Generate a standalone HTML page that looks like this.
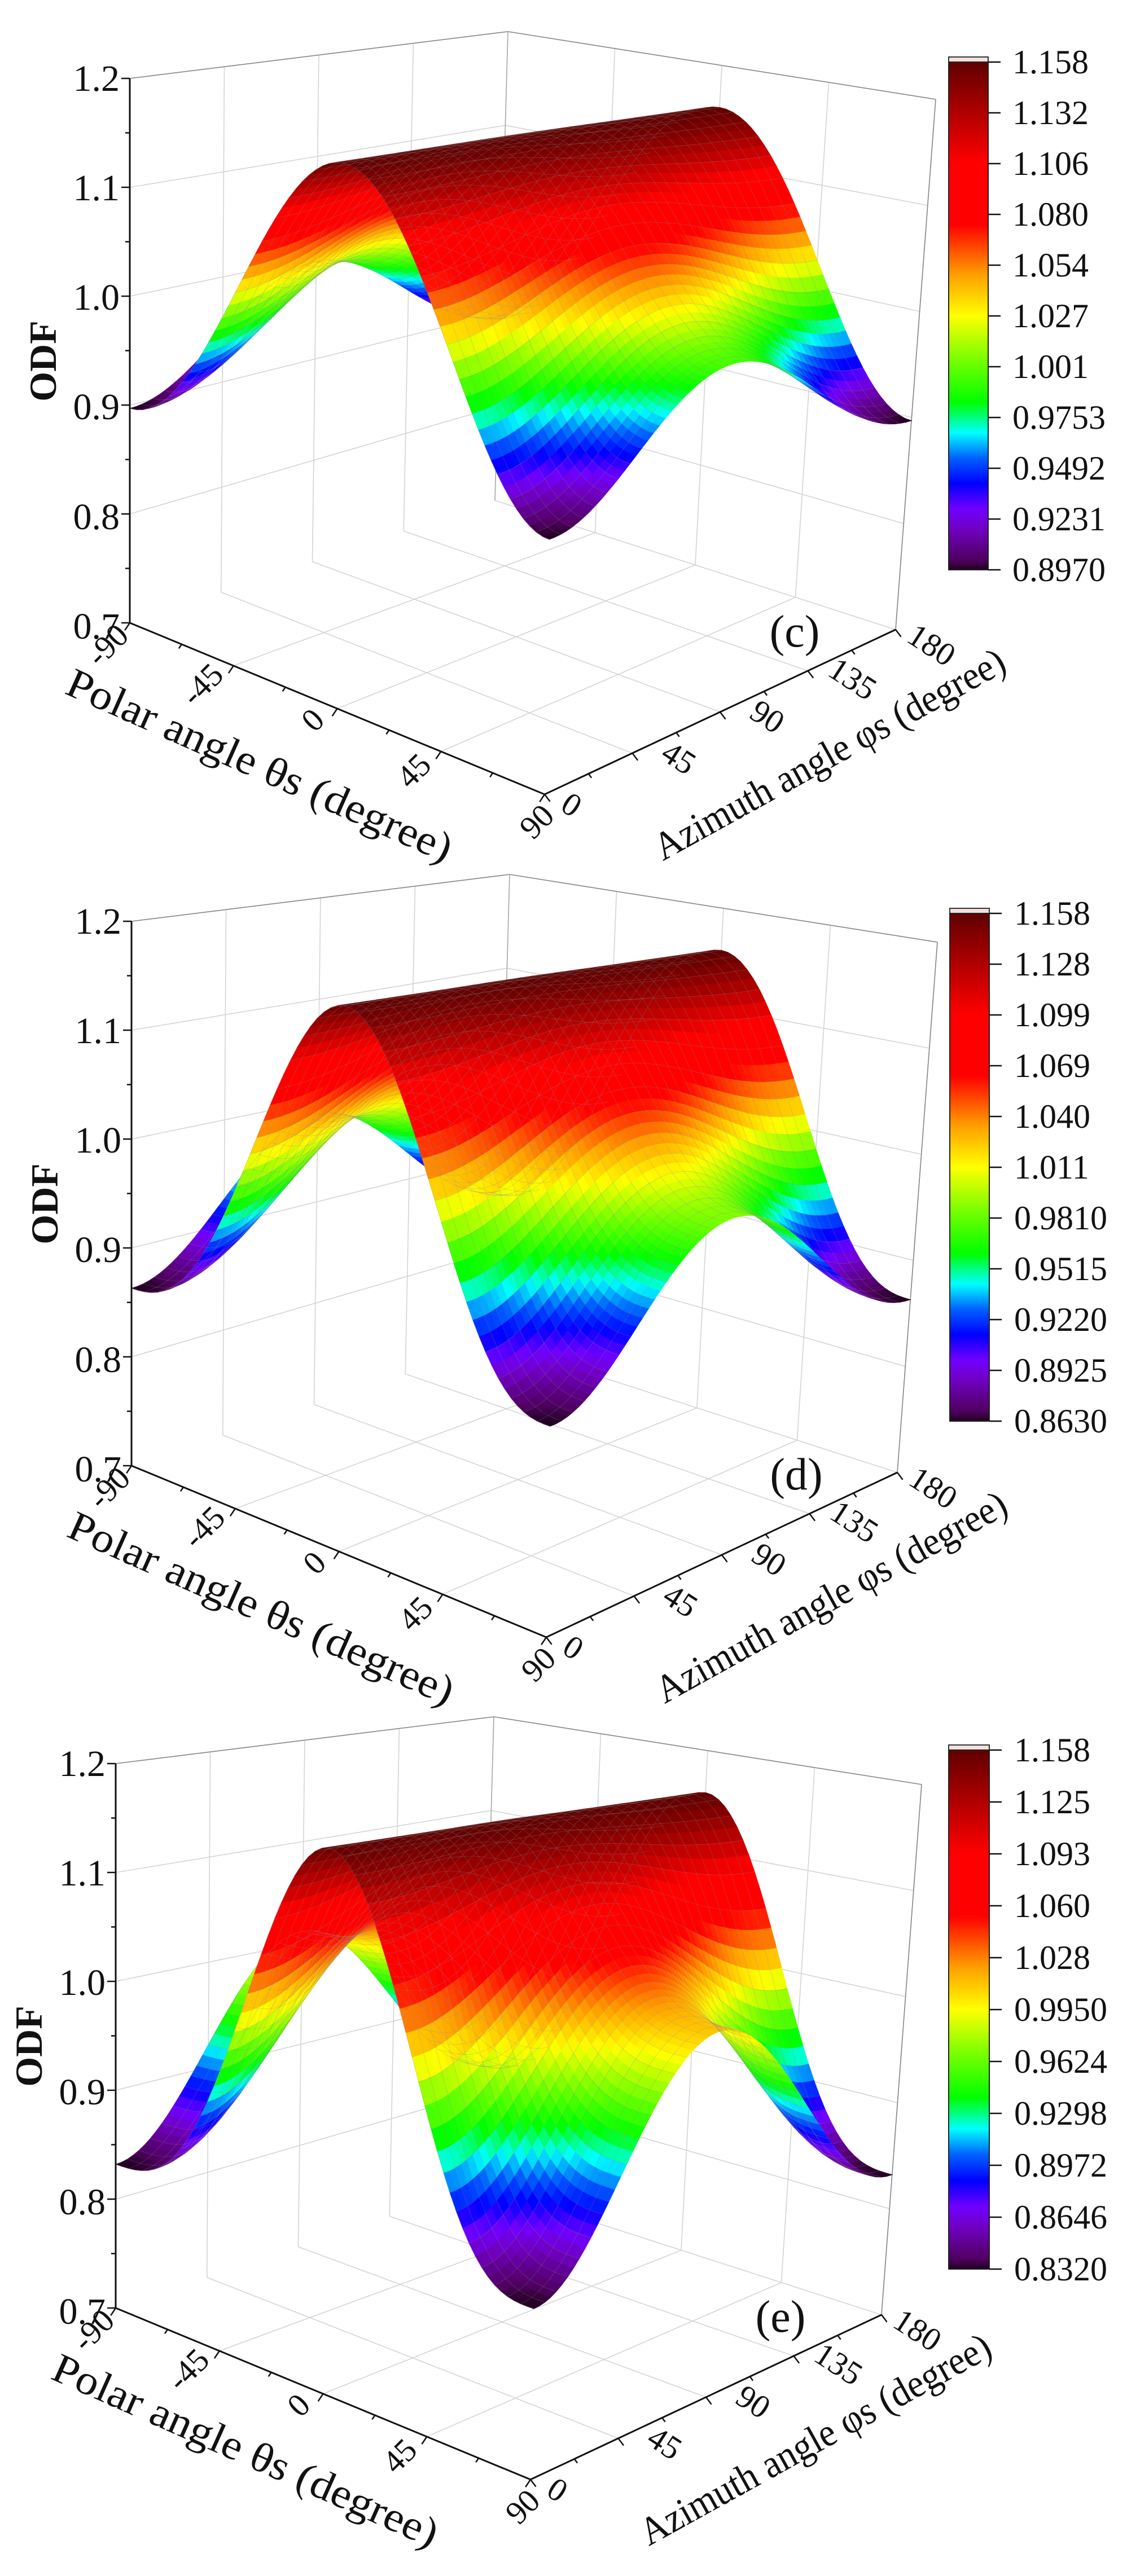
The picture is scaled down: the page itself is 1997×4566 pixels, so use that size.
<!DOCTYPE html>
<html><head><meta charset="utf-8">
<style>
html,body{margin:0;padding:0;background:#fff;}
svg{display:block;}
text{font-family:"Liberation Serif",serif;fill:#111;}
</style></head>
<body>
<svg id="root" width="1997" height="4566" viewBox="0 0 1997 4566" xmlns="http://www.w3.org/2000/svg">
<defs>
<linearGradient id="cmap" x1="0" y1="1" x2="0" y2="0">
<stop offset="0" stop-color="#200020"/><stop offset="0.02" stop-color="#500060"/>
<stop offset="0.08" stop-color="#7000c0"/><stop offset="0.12" stop-color="#7000ff"/>
<stop offset="0.17" stop-color="#0000ff"/><stop offset="0.22" stop-color="#0060ff"/>
<stop offset="0.27" stop-color="#00ffff"/><stop offset="0.33" stop-color="#00ff00"/>
<stop offset="0.42" stop-color="#80ff00"/><stop offset="0.5" stop-color="#ffff00"/>
<stop offset="0.58" stop-color="#ffa000"/><stop offset="0.63" stop-color="#ff5000"/>
<stop offset="0.68" stop-color="#ff0000"/><stop offset="0.8" stop-color="#ff0000"/>
<stop offset="0.9" stop-color="#b00000"/><stop offset="1" stop-color="#600000"/>
</linearGradient>
</defs>

<!-- Panel c -->
<g transform="translate(0,0)">
<g id="grid1"></g><g id="surf1"></g><g id="axes1"></g>
<g font-size="66" text-anchor="end">
<text x="212" y="161">1.2</text><text x="212" y="355">1.1</text><text x="212" y="549">1.0</text>
<text x="212" y="743">0.9</text><text x="212" y="938">0.8</text><text x="212" y="1132">0.7</text>
</g>
<text x="76" y="640" font-size="68" font-weight="bold" text-anchor="middle" dominant-baseline="central" transform="rotate(-90 76 640)">ODF</text>
<g font-size="58" text-anchor="middle" dominant-baseline="central">
<text x="190" y="1143" transform="rotate(-45 190 1143)">-90</text>
<text x="358" y="1213" transform="rotate(-45 358 1213)">-45</text>
<text x="554" y="1276" transform="rotate(-45 554 1276)">0</text>
<text x="733" y="1366" transform="rotate(-45 733 1366)">45</text>
<text x="951" y="1456" transform="rotate(-45 951 1456)">90</text>
<text x="1013" y="1426" transform="rotate(33 1013 1426)">0</text>
<text x="1203" y="1343" transform="rotate(33 1203 1343)">45</text>
<text x="1360" y="1270" transform="rotate(33 1360 1270)">90</text>
<text x="1511" y="1203" transform="rotate(33 1511 1203)">135</text>
<text x="1651" y="1143" transform="rotate(33 1651 1143)">180</text>
</g>
<text x="460" y="1357" font-size="74" text-anchor="middle" dominant-baseline="central" textLength="740" lengthAdjust="spacingAndGlyphs" transform="rotate(24 460 1357)">Polar angle θs (degree)</text>
<text x="1470" y="1337" font-size="70" text-anchor="middle" dominant-baseline="central" textLength="700" lengthAdjust="spacingAndGlyphs" transform="rotate(-29 1470 1337)">Azimuth angle φs (degree)</text>
<text x="1408" y="1120" font-size="80" text-anchor="middle" dominant-baseline="central">(c)</text>
</g>

<!-- Panel d -->
<g transform="translate(3,1494)">
<g id="grid2"></g><g id="surf2"></g><g id="axes2"></g>
<g font-size="66" text-anchor="end">
<text x="212" y="161">1.2</text><text x="212" y="355">1.1</text><text x="212" y="549">1.0</text>
<text x="212" y="743">0.9</text><text x="212" y="938">0.8</text><text x="212" y="1132">0.7</text>
</g>
<text x="76" y="640" font-size="68" font-weight="bold" text-anchor="middle" dominant-baseline="central" transform="rotate(-90 76 640)">ODF</text>
<g font-size="58" text-anchor="middle" dominant-baseline="central">
<text x="190" y="1143" transform="rotate(-45 190 1143)">-90</text>
<text x="358" y="1213" transform="rotate(-45 358 1213)">-45</text>
<text x="554" y="1276" transform="rotate(-45 554 1276)">0</text>
<text x="733" y="1366" transform="rotate(-45 733 1366)">45</text>
<text x="951" y="1456" transform="rotate(-45 951 1456)">90</text>
<text x="1013" y="1426" transform="rotate(33 1013 1426)">0</text>
<text x="1203" y="1343" transform="rotate(33 1203 1343)">45</text>
<text x="1360" y="1270" transform="rotate(33 1360 1270)">90</text>
<text x="1511" y="1203" transform="rotate(33 1511 1203)">135</text>
<text x="1651" y="1143" transform="rotate(33 1651 1143)">180</text>
</g>
<text x="460" y="1357" font-size="74" text-anchor="middle" dominant-baseline="central" textLength="740" lengthAdjust="spacingAndGlyphs" transform="rotate(24 460 1357)">Polar angle θs (degree)</text>
<text x="1470" y="1337" font-size="70" text-anchor="middle" dominant-baseline="central" textLength="700" lengthAdjust="spacingAndGlyphs" transform="rotate(-29 1470 1337)">Azimuth angle φs (degree)</text>
<text x="1408" y="1120" font-size="80" text-anchor="middle" dominant-baseline="central">(d)</text>
</g>

<!-- Panel e -->
<g transform="translate(-25,2987)">
<g id="grid3"></g><g id="surf3"></g><g id="axes3"></g>
<g font-size="66" text-anchor="end">
<text x="212" y="161">1.2</text><text x="212" y="355">1.1</text><text x="212" y="549">1.0</text>
<text x="212" y="743">0.9</text><text x="212" y="938">0.8</text><text x="212" y="1132">0.7</text>
</g>
<text x="76" y="640" font-size="68" font-weight="bold" text-anchor="middle" dominant-baseline="central" transform="rotate(-90 76 640)">ODF</text>
<g font-size="58" text-anchor="middle" dominant-baseline="central">
<text x="190" y="1143" transform="rotate(-45 190 1143)">-90</text>
<text x="358" y="1213" transform="rotate(-45 358 1213)">-45</text>
<text x="554" y="1276" transform="rotate(-45 554 1276)">0</text>
<text x="733" y="1366" transform="rotate(-45 733 1366)">45</text>
<text x="951" y="1456" transform="rotate(-45 951 1456)">90</text>
<text x="1013" y="1426" transform="rotate(33 1013 1426)">0</text>
<text x="1203" y="1343" transform="rotate(33 1203 1343)">45</text>
<text x="1360" y="1270" transform="rotate(33 1360 1270)">90</text>
<text x="1511" y="1203" transform="rotate(33 1511 1203)">135</text>
<text x="1651" y="1143" transform="rotate(33 1651 1143)">180</text>
</g>
<text x="460" y="1357" font-size="74" text-anchor="middle" dominant-baseline="central" textLength="740" lengthAdjust="spacingAndGlyphs" transform="rotate(24 460 1357)">Polar angle θs (degree)</text>
<text x="1470" y="1337" font-size="70" text-anchor="middle" dominant-baseline="central" textLength="700" lengthAdjust="spacingAndGlyphs" transform="rotate(-29 1470 1337)">Azimuth angle φs (degree)</text>
<text x="1408" y="1120" font-size="80" text-anchor="middle" dominant-baseline="central">(e)</text>
</g>

<!-- Colorbars -->
<g>
<rect x="1681" y="101" width="70" height="9" fill="#f4e0e0" stroke="#333" stroke-width="2"/>
<rect x="1681" y="110" width="70" height="900" fill="url(#cmap)" stroke="#222" stroke-width="2"/>
<g id="cbt1"></g>
<g font-size="60">
<text x="1794" y="130">1.158</text><text x="1794" y="220">1.132</text><text x="1794" y="310">1.106</text>
<text x="1794" y="400">1.080</text><text x="1794" y="490">1.054</text><text x="1794" y="580">1.027</text>
<text x="1794" y="670">1.001</text><text x="1794" y="760">0.9753</text><text x="1794" y="850">0.9492</text>
<text x="1794" y="940">0.9231</text><text x="1794" y="1030">0.8970</text>
</g>
</g>
<g>
<rect x="1683" y="1610" width="70" height="9" fill="#f4e0e0" stroke="#333" stroke-width="2"/>
<rect x="1683" y="1619" width="70" height="900" fill="url(#cmap)" stroke="#222" stroke-width="2"/>
<g id="cbt2"></g>
<g font-size="60">
<text x="1797" y="1639">1.158</text><text x="1797" y="1729">1.128</text><text x="1797" y="1819">1.099</text>
<text x="1797" y="1909">1.069</text><text x="1797" y="1999">1.040</text><text x="1797" y="2089">1.011</text>
<text x="1797" y="2179">0.9810</text><text x="1797" y="2269">0.9515</text><text x="1797" y="2359">0.9220</text>
<text x="1797" y="2449">0.8925</text><text x="1797" y="2539">0.8630</text>
</g>
</g>
<g>
<rect x="1681" y="3093" width="72" height="9" fill="#f4e0e0" stroke="#333" stroke-width="2"/>
<rect x="1681" y="3102" width="72" height="920" fill="url(#cmap)" stroke="#222" stroke-width="2"/>
<g id="cbt3"></g>
<g font-size="60">
<text x="1797" y="3122">1.158</text><text x="1797" y="3214">1.125</text><text x="1797" y="3306">1.093</text>
<text x="1797" y="3398">1.060</text><text x="1797" y="3490">1.028</text><text x="1797" y="3582">0.9950</text>
<text x="1797" y="3674">0.9624</text><text x="1797" y="3766">0.9298</text><text x="1797" y="3858">0.8972</text>
<text x="1797" y="3950">0.8646</text><text x="1797" y="4042">0.8320</text>
</g>
</g>
</svg>
<script>
(function(){
var NS="http://www.w3.org/2000/svg";
function el(tag,attrs,parent){var e=document.createElementNS(NS,tag);for(var k in attrs)e.setAttribute(k,attrs[k]);parent.appendChild(e);return e;}
var A=[230,1104],B=[965,1408],C=[1587,1116],D=[877,887];
var TA=[230,139],TB=[986,261],TC=[1658,176],TD=[900,56];
function bl(P,Q,R,S,a,b){return [P[0]*(1-a)*(1-b)+Q[0]*a*(1-b)+R[0]*a*b+S[0]*(1-a)*b,
 P[1]*(1-a)*(1-b)+Q[1]*a*(1-b)+R[1]*a*b+S[1]*(1-a)*b];}
function proj(u,v,z){var a=(u+90)/180,b=v/180;var f=bl(A,B,C,D,a,b),t=bl(TA,TB,TC,TD,a,b);var s=(z-0.7)/0.5;
 return [f[0]+(t[0]-f[0])*s,f[1]+(t[1]-f[1])*s];}
function pstr(pts){return pts.map(function(p){return p[0].toFixed(1)+","+p[1].toFixed(1);}).join(" ");}
var stops=[[0,[32,0,32]],[0.02,[80,0,96]],[0.08,[112,0,192]],[0.12,[112,0,255]],[0.17,[0,0,255]],[0.22,[0,96,255]],
[0.27,[0,255,255]],[0.33,[0,255,0]],[0.42,[128,255,0]],[0.5,[255,255,0]],[0.58,[255,160,0]],[0.63,[255,80,0]],
[0.68,[255,0,0]],[0.8,[255,0,0]],[0.9,[176,0,0]],[1,[96,0,0]]];
function cmap(t){t=Math.max(0,Math.min(1,t));for(var i=1;i<stops.length;i++){if(t<=stops[i][0]){var a=stops[i-1],b=stops[i];var f=(t-a[0])/(b[0]-a[0]);
 return "rgb("+[0,1,2].map(function(k){return Math.round(a[1][k]+(b[1][k]-a[1][k])*f);}).join(",")+")";}}return "rgb(96,0,0)";}
function grid(g){
 var gs={stroke:"#d4d4d4","stroke-width":1.6,fill:"none"};
 function line(p,q,c){var a=Object.assign({},gs);if(c)a.stroke=c;a.x1=p[0];a.y1=p[1];a.x2=q[0];a.y2=q[1];el("line",a,g);}
 for(var z=0.8;z<1.21;z+=0.1){line(proj(-90,0,z),proj(-90,180,z));line(proj(-90,180,z),proj(90,180,z));}
 for(var v=45;v<=180;v+=45){line(proj(-90,v,0.7),proj(-90,v,1.2));line(proj(-90,v,0.7),proj(90,v,0.7));}
 for(var u=-45;u<=90;u+=45){line(proj(u,180,0.7),proj(u,180,1.2));line(proj(u,0,0.7),proj(u,180,0.7));}
 line(proj(-90,0,1.2),proj(-90,180,1.2),"#888");line(proj(-90,180,1.2),proj(90,180,1.2),"#888");
 line(proj(-90,180,0.7),proj(-90,180,1.2),"#aaa");line(proj(90,180,0.7),proj(90,180,1.2),"#888");
}
function axes(g){
 var s={stroke:"#111","stroke-width":3,fill:"none"};
 function line(p,q,w){var a=Object.assign({},s);if(w)a["stroke-width"]=w;a.x1=p[0];a.y1=p[1];a.x2=q[0];a.y2=q[1];el("line",a,g);}
 line(proj(-90,0,0.7),proj(-90,0,1.2));line(proj(-90,0,0.7),proj(90,0,0.7));line(proj(90,0,0.7),proj(90,180,0.7));
 for(var i=0;i<=10;i++){var z=0.7+i*0.05;var p=proj(-90,0,z);line(p,[p[0]-(i%2?8:15),p[1]],2.5);}
 for(var i=0;i<=8;i++){var u=-90+i*22.5;var p=proj(u,0,0.7);var L=i%2?9:16;line(p,[p[0]-L*0.55,p[1]+L*0.83],2.5);}
 for(var i=0;i<=8;i++){var v=i*22.5;var p=proj(90,v,0.7);var L=i%2?9:16;line(p,[p[0]+L*0.6,p[1]+L*0.8],2.5);}
}
function surface(g,zmin,zmax,k,p){
 var N=64,quads=[];
 function Z(u,v){var r=u*Math.PI/180,c=Math.pow(Math.cos(r),2);var sv=Math.pow(Math.sin(v*Math.PI/180),2);
  var base=Math.pow(c,p);return zmin+(zmax-zmin)*(base+(1-base)*k*sv);}
 for(var i=0;i<N;i++)for(var j=0;j<N;j++){
  var u0=-90+180*i/N,u1=-90+180*(i+1)/N,v0=180*j/N,v1=180*(j+1)/N;
  var z00=Z(u0,v0),z10=Z(u1,v0),z11=Z(u1,v1),z01=Z(u0,v1);
  var zm=(z00+z10+z11+z01)/4;
  var key=(90-(u0+u1)/2)/180+((v0+v1)/2)/180;
  quads.push([key,[proj(u0,v0,z00),proj(u1,v0,z10),proj(u1,v1,z11),proj(u0,v1,z01)],zm,i,j]);
 }
 quads.sort(function(a,b){return b[0]-a[0];});
 quads.forEach(function(q){var col=cmap((q[2]-zmin)/(zmax-zmin));
  el("polygon",{points:pstr(q[1]),fill:col,stroke:col,"stroke-width":1},g);
  if(q[3]%2==0&&q[4]%2==0){}
 });
 // mesh overlay lines (every 2 cells), drawn per quad order to respect occlusion approximately
 quads.forEach(function(q){
  var pts=q[1];
  if(q[3]%2==0) el("line",{x1:pts[0][0],y1:pts[0][1],x2:pts[3][0],y2:pts[3][1],stroke:"rgba(140,140,140,0.35)","stroke-width":0.8},g);
  if(q[4]%2==0) el("line",{x1:pts[0][0],y1:pts[0][1],x2:pts[1][0],y2:pts[1][1],stroke:"rgba(140,140,140,0.35)","stroke-width":0.8},g);
 });
}
var cfg=[[0.897,1.158,0.38,1],[0.863,1.158,0.42,1.3],[0.832,1.158,0.55,1.5]];
for(var n=1;n<=3;n++){
 grid(document.getElementById("grid"+n));
 surface(document.getElementById("surf"+n),cfg[n-1][0],cfg[n-1][1],cfg[n-1][2],cfg[n-1][3]);
 axes(document.getElementById("axes"+n));
}
var cb=[[110,900,1751],[1619,900,1753],[3102,920,1753]];
for(var n=1;n<=3;n++){var g=document.getElementById("cbt"+n);var y0=cb[n-1][0],h=cb[n-1][1],x=cb[n-1][2];
 for(var i=0;i<=10;i++){var y=y0+h*i/10;el("line",{x1:x,y1:y,x2:x+22,y2:y,stroke:"#111","stroke-width":2.5},g);}}
})();
</script>
</body></html>
